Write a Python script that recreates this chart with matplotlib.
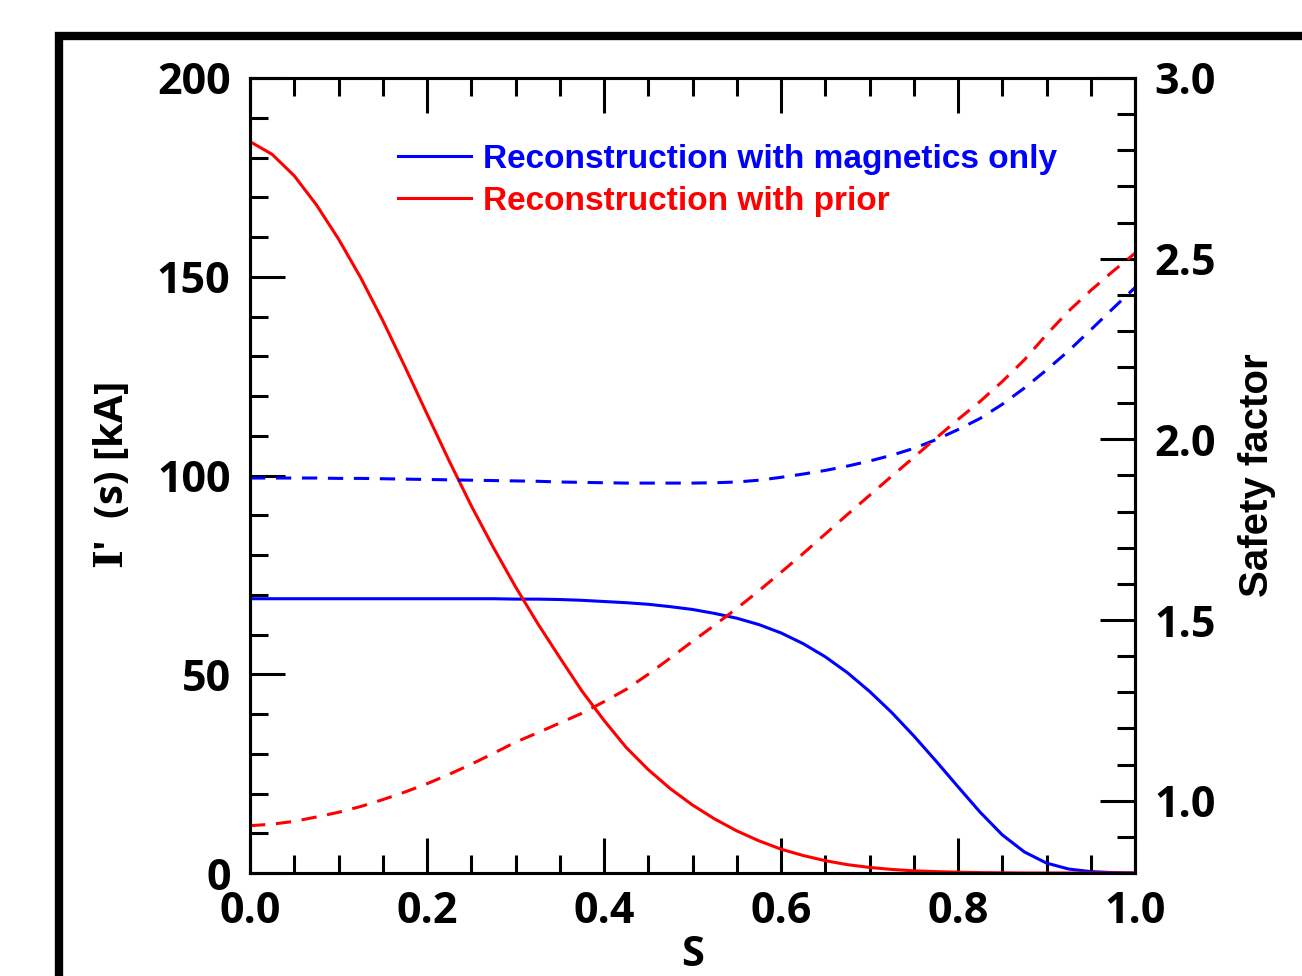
import matplotlib
matplotlib.use("Agg")
import matplotlib.pyplot as plt
from matplotlib.ticker import MultipleLocator, FormatStrFormatter
from matplotlib.patches import Rectangle

# normalised flux coordinate
s = [0.0, 0.025, 0.05, 0.075, 0.1, 0.125, 0.15, 0.175, 0.2, 0.225,
     0.25, 0.275, 0.3, 0.325, 0.35, 0.375, 0.4, 0.425, 0.45, 0.475,
     0.5, 0.525, 0.55, 0.575, 0.6, 0.625, 0.65, 0.675, 0.7, 0.725,
     0.75, 0.775, 0.8, 0.825, 0.85, 0.875, 0.9, 0.925, 0.95, 0.975, 1.0]

# current profile I'(s) [kA] (left axis)
I_mag = [69.0, 69.0, 69.0, 69.0, 69.0, 69.0, 69.0, 69.0, 69.0, 69.0,
         69.0, 69.0, 68.9, 68.9, 68.8, 68.6, 68.3, 68.0, 67.6, 67.0,
         66.3, 65.3, 64.1, 62.5, 60.4, 57.7, 54.4, 50.4, 45.7, 40.4,
         34.5, 28.2, 21.7, 15.3, 9.6, 5.3, 2.5, 1.0, 0.35, 0.1, 0.0]
I_prior = [184.0, 180.8, 175.4, 168.1, 159.5, 149.8, 139.0, 127.4, 115.5, 103.7,
           92.4, 81.9, 72.0, 62.8, 54.2, 45.8, 38.4, 31.6, 26.0, 21.2,
           17.1, 13.6, 10.6, 8.1, 6.0, 4.4, 3.1, 2.1, 1.4, 0.9,
           0.55, 0.35, 0.2, 0.1, 0.05, 0.0, 0.0, 0.0, 0.0, 0.0, 0.0]

# safety factor q(s) (right axis)
q_mag = [1.893, 1.893, 1.893, 1.893, 1.892, 1.892, 1.891, 1.890, 1.889, 1.888,
         1.887, 1.886, 1.885, 1.884, 1.882, 1.881, 1.880, 1.879, 1.879, 1.879,
         1.879, 1.880, 1.882, 1.887, 1.895, 1.904, 1.914, 1.926, 1.940, 1.956,
         1.975, 1.999, 2.027, 2.058, 2.097, 2.142, 2.192, 2.245, 2.303, 2.362, 2.420]
q_prior = [0.931, 0.935, 0.943, 0.955, 0.968, 0.984, 1.003, 1.024, 1.047, 1.073,
           1.101, 1.131, 1.162, 1.188, 1.215, 1.242, 1.274, 1.308, 1.350, 1.395,
           1.441, 1.486, 1.532, 1.581, 1.632, 1.684, 1.738, 1.792, 1.845, 1.898,
           1.950, 2.003, 2.055, 2.105, 2.160, 2.220, 2.290, 2.355, 2.412, 2.465, 2.515]

labels = ["Reconstruction with magnetics only", "Reconstruction with prior"]
colors = ["#0000ff", "#ff0000"]

plt.rcParams['font.family'] = ['Open Sans', 'DejaVu Sans']
plt.rcParams['font.weight'] = 'bold'
plt.rcParams['mathtext.fontset'] = 'custom'
plt.rcParams['mathtext.bf'] = 'DejaVu Serif:bold'

fig = plt.figure(figsize=(13.02, 9.76), dpi=100)
ax = fig.add_axes([250/1302, 103/976, 885/1302, 795/976])
ax2 = ax.twinx()

lw = 2.2
ax.plot(s, I_mag, color=colors[0], lw=lw, label=labels[0])
ax.plot(s, I_prior, color=colors[1], lw=lw, label=labels[1])
ax2.plot(s, q_mag, color=colors[0], lw=lw, dashes=(5, 3.5))
ax2.plot(s, q_prior, color=colors[1], lw=lw, dashes=(5, 3.5))

ax.set_xlim(0, 1)
ax.set_ylim(0, 200)
ax2.set_ylim(0.8, 3.0)

ax.xaxis.set_major_locator(MultipleLocator(0.2))
ax.xaxis.set_minor_locator(MultipleLocator(0.05))
ax.xaxis.set_major_formatter(FormatStrFormatter('%.1f'))
ax.yaxis.set_major_locator(MultipleLocator(50))
ax.yaxis.set_minor_locator(MultipleLocator(10))
ax2.yaxis.set_major_locator(MultipleLocator(0.5))
ax2.yaxis.set_minor_locator(MultipleLocator(0.1))
ax2.yaxis.set_major_formatter(FormatStrFormatter('%.1f'))

ax.tick_params(which='both', direction='in', top=True, right=False, width=2.2,
               labelsize=31, pad=14)
ax.tick_params(which='major', length=25)
ax.tick_params(which='minor', length=13)
ax.tick_params(axis='x', pad=12)
ax2.tick_params(which='both', direction='in', width=2.2, labelsize=31, pad=14)
ax2.tick_params(which='major', length=25)
ax2.tick_params(which='minor', length=13)
for a in (ax, ax2):
    for sp in a.spines.values():
        sp.set_linewidth(2.2)
    for t in a.get_xticklabels() + a.get_yticklabels():
        t.set_fontweight('bold')

ax.set_xlabel("S", fontsize=30, fontweight='bold', labelpad=2)
ax.set_ylabel(r"$\mathbf{I}$′  (s) [kA]", fontsize=29, fontweight='bold', labelpad=18)
ax2.set_ylabel("Safety factor", fontsize=29, fontweight='bold',
               family='Liberation Sans', labelpad=16)

leg = ax.legend(loc='upper left', bbox_to_anchor=(0.167, 0.917), frameon=False,
                prop={'family': 'Liberation Sans', 'weight': 'bold', 'size': 24},
                handlelength=2.2, handletextpad=0.35, labelspacing=0.32,
                borderpad=0, borderaxespad=0)
for txt, c in zip(leg.get_texts(), colors):
    txt.set_color(c)

# thick outer frame
fig.patches.append(Rectangle((59/1302, -0.05), 1.1, (976-36)/976 + 0.05,
                             transform=fig.transFigure, fill=False,
                             edgecolor='black', lw=6, clip_on=False))

fig.savefig("out.png", dpi=100)
